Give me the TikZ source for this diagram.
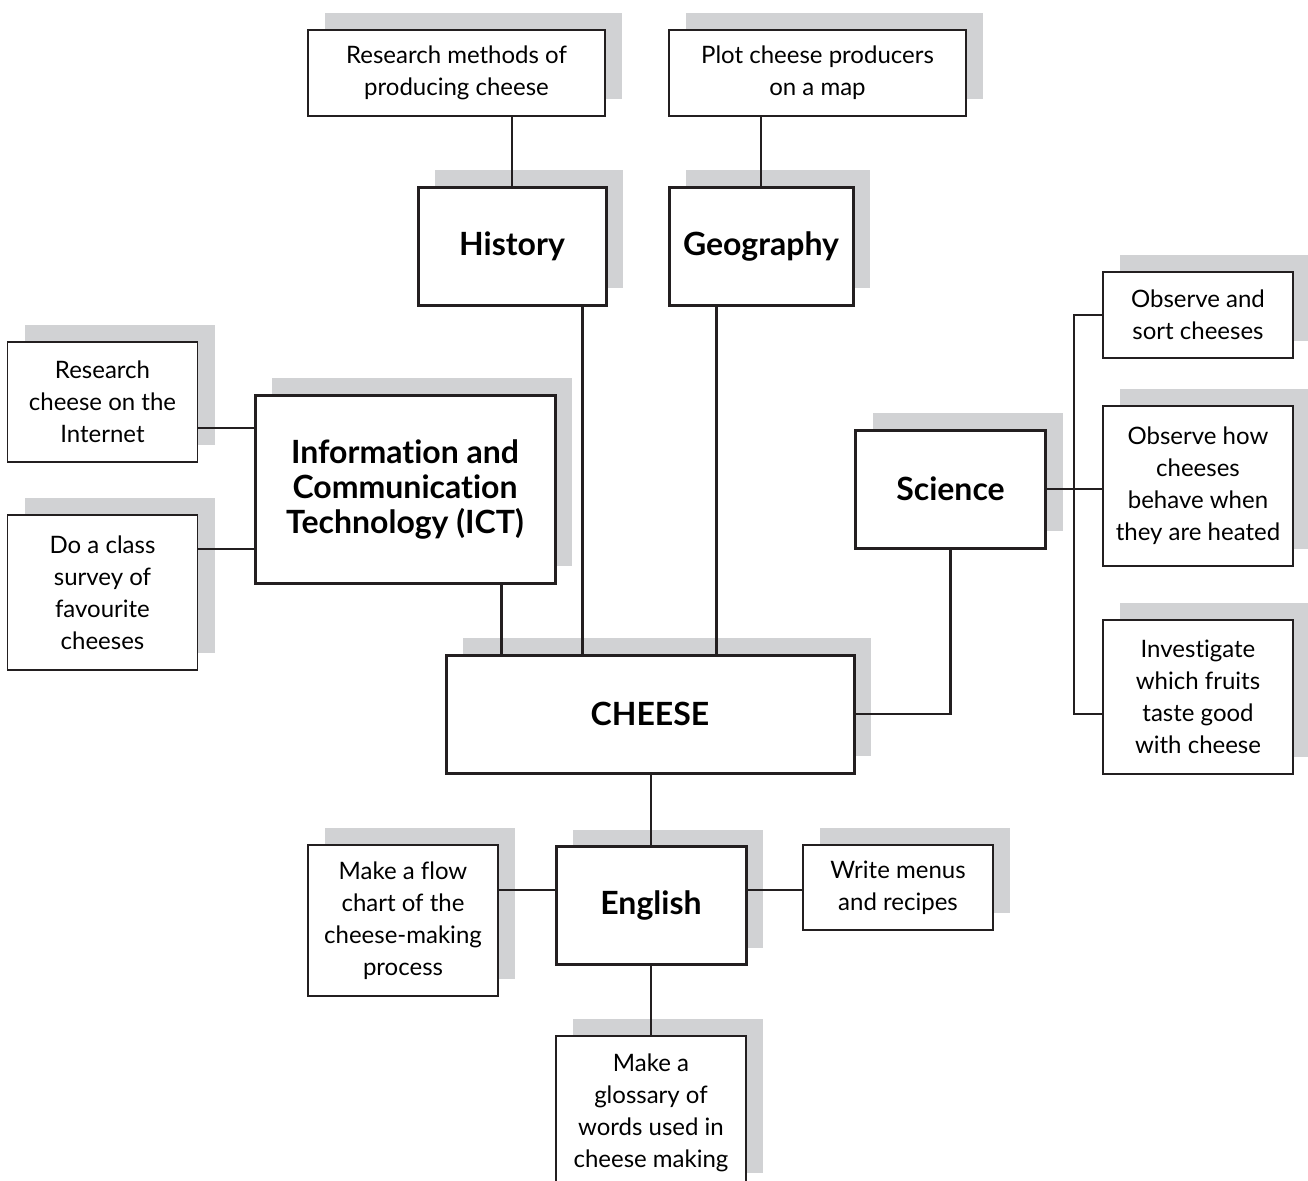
\documentclass[tikz,border=0pt]{standalone}
\usepackage{fontspec}
\setmainfont{Lato}[Ligatures=NoCommon]
\usepackage{tikz}
\usetikzlibrary{shadows}
\definecolor{shadegray}{HTML}{D1D2D4}
\definecolor{inkgray}{HTML}{231F20}
\tikzset{
  taskbox/.style  = {draw=inkgray, line width=0.8pt, fill=white, align=center,
                     inner sep=0pt, minimum width=95pt,
                     font=\fontsize{12}{16}\selectfont,
                     general shadow={fill=shadegray, shadow xshift=8.5pt,
                                     shadow yshift=8.5pt}},
  subjbox/.style  = {draw=inkgray, line width=1.5pt, fill=white, align=center,
                     inner sep=0pt, minimum width=95pt, minimum height=59pt,
                     font=\fontsize{16}{17.5}\selectfont\bfseries,
                     general shadow={fill=shadegray, shadow xshift=8.5pt,
                                     shadow yshift=8.5pt}},
  link/.style     = {draw=inkgray, line width=1.1pt}
}
\begin{document}
\begin{tikzpicture}[x=0.5pt, y=-0.5pt]
  \useasboundingbox (0,0) rectangle (1308,1180);
  % top row
  \node[taskbox, minimum width=148.5pt, minimum height=43pt] (meth) at (456.5,73)
       {Research methods of\\producing cheese};
  \node[taskbox, minimum width=148.5pt, minimum height=43pt] (plot) at (817.5,73)
       {Plot cheese producers\\on a map};
  \node[subjbox, minimum width=94pt] (hist) at (512,246) {History};
  \node[subjbox, minimum width=92pt] (geog) at (761,246) {Geography};
  % left
  \node[taskbox, minimum height=60pt] (web) at (102.5,402)
       {Research\\cheese on the\\Internet};
  \node[taskbox, minimum height=77.5pt] (survey) at (102.5,592.5)
       {Do a class\\survey of\\favourite\\cheeses};
  \node[subjbox, minimum width=150pt, minimum height=94pt] (ict) at (405,489)
       {Information and\\Communication\\Technology (ICT)};
  % right
  \node[subjbox] (sci) at (950.5,489) {Science};
  \node[taskbox, minimum height=43pt] (sort) at (1198,315)
       {Observe and\\sort cheeses};
  \node[taskbox, minimum height=80pt] (heat) at (1198,486)
       {Observe how\\cheeses\\behave when\\they are heated};
  \node[taskbox, minimum height=77pt] (fruit) at (1198,697)
       {Investigate\\which fruits\\taste good\\with cheese};
  % centre
  \node[subjbox, minimum width=204pt] (cheese) at (650,714) {CHEESE};
  % bottom
  \node[subjbox] (eng) at (651,905.5) {English};
  \node[taskbox, minimum height=75.5pt] (flow) at (403,920.5)
       {Make a flow\\chart of the\\cheese-making\\process};
  \node[taskbox, minimum height=42.5pt] (menu) at (898,887.5)
       {Write menus\\and recipes};
  \node[taskbox, minimum height=77pt] (gloss) at (651,1113)
       {Make a\\glossary of\\words used in\\cheese making};

  \coordinate (bus) at (1074,489);

  \draw[link] (hist.north) -- (hist.north |- meth.south);
  \draw[link] (geog.north) -- (geog.north |- plot.south);
  \draw[link] ([xshift=-12.5pt]hist.south east) -- ([xshift=-12.5pt]hist.south east |- cheese.north);
  \draw[link] ([xshift=24.5pt]geog.south west) -- ([xshift=24.5pt]geog.south west |- cheese.north);
  \draw[link] ([xshift=-27.5pt]ict.south east) -- ([xshift=-27.5pt]ict.south east |- cheese.north);
  \draw[link] ([yshift=-13pt]web.east) -- ([yshift=-13pt]web.east -| ict.west);
  \draw[link] ([yshift=21.75pt]survey.east) -- ([yshift=21.75pt]survey.east -| ict.west);
  \draw[link] (sci.south) |- (cheese.east);
  \draw[link] (sci.east) -- (sci.east -| heat.west);
  \draw[link] (sort.west) -| (bus |- cheese.east) -- (fruit.west |- cheese.east);
  \draw[link] (eng.north) -- (eng.north |- cheese.south);
  \draw[link] ([yshift=7.75pt]eng.west) -- ([yshift=7.75pt]eng.west -| flow.east);
  \draw[link] ([yshift=7.75pt]eng.east) -- ([yshift=7.75pt]eng.east -| menu.west);
  \draw[link] (eng.south) -- (gloss.north);
\end{tikzpicture}
\end{document}
